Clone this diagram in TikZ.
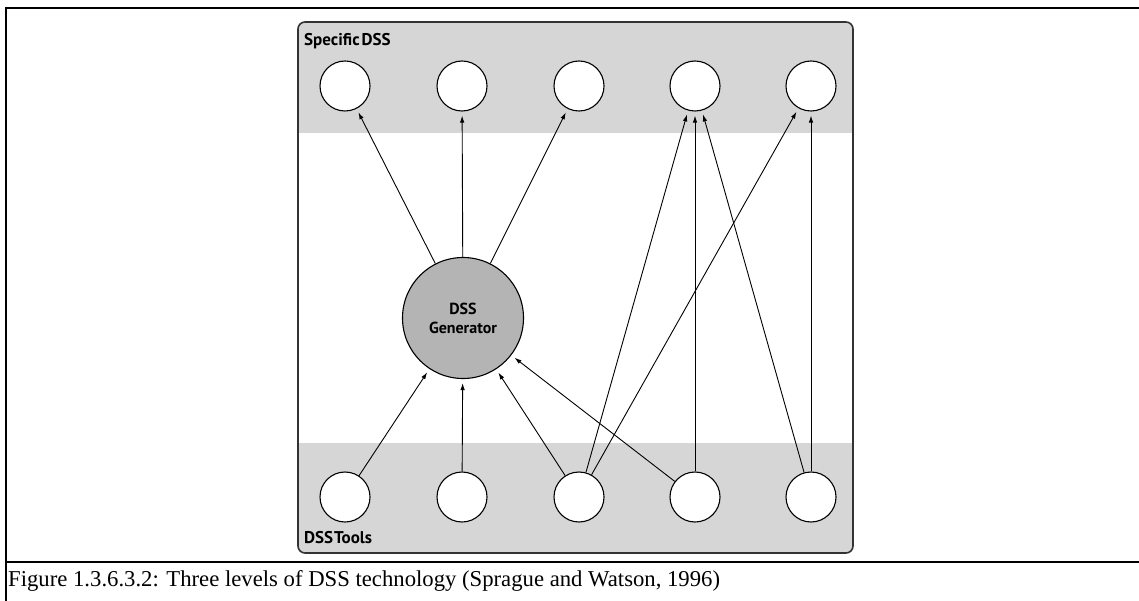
\documentclass[tikz,border=0pt]{standalone}
\usepackage{fontspec}
\setmainfont{Liberation Serif}
\newfontfamily\lblfont{PT Sans}
\usetikzlibrary{arrows.meta}
\definecolor{band}{HTML}{D6D6D6}
\definecolor{genfill}{HTML}{B4B4B4}
\definecolor{boxedge}{HTML}{333333}
\begin{document}
\begin{tikzpicture}[x=1pt,y=-1pt,
  smallc/.style={circle,draw=black,fill=white,line width=1.1pt,minimum size=50pt,inner sep=0pt},
  gen/.style={circle,draw=black,fill=genfill,line width=1.1pt,minimum size=121pt,inner sep=0pt,
    font=\lblfont\bfseries\fontsize{16}{19}\selectfont,align=center},
  arr/.style={-{Latex[length=7pt,width=4.5pt]},line width=0.9pt,shorten >=4pt},
  lbl/.style={font=\lblfont\bfseries\fontsize{17}{19}\selectfont,anchor=west,inner sep=0pt},
  frame/.style={line width=2.2pt,black}]
\useasboundingbox (0,0) rectangle (1139,601);
% table frame
\draw[frame] (6,8) -- (1139,8);
\draw[frame] (6,7) -- (6,601);
\draw[frame,line width=2.8pt] (5,562) -- (1139,562);
% diagram box
\begin{scope}
  \clip[rounded corners=7pt] (298,22) rectangle (853,553);
  \fill[white] (298,22) rectangle (853,553);
  \fill[band] (298,22) rectangle (853,133);
  \fill[band] (298,443) rectangle (853,553);
\end{scope}
\draw[boxedge,line width=1.6pt,rounded corners=7pt] (298,22) rectangle (853,553);
% labels
\node[lbl] (lt) at (304,41) {Specific\hspace{2pt}DSS};
\node[lbl] (lb) at (304,538) {DSS\hspace{1pt}Tools};
% top circles
\node[smallc] (t1) at (345,86) {};
\node[smallc] (t2) at (462,86) {};
\node[smallc] (t3) at (579,86) {};
\node[smallc] (t4) at (695,86) {};
\node[smallc] (t5) at (811,86) {};
% bottom circles
\node[smallc] (b1) at (345,497) {};
\node[smallc] (b2) at (462,497) {};
\node[smallc] (b3) at (579,497) {};
\node[smallc] (b4) at (695,497) {};
\node[smallc] (b5) at (811,497) {};
% generator
\node[gen] (g) at (463,318) {DSS\\Generator};
% arrows
\draw[arr] (g) -- (t1);
\draw[arr] (g) -- (t2);
\draw[arr] (g) -- (t3);
\draw[arr] (b1) -- (g);
\draw[arr] (b2) -- (g);
\draw[arr] (b3) -- (g);
\draw[arr] (b4) -- (g);
\draw[arr] (b3) -- (t4);
\draw[arr] (b3) -- (t5);
\draw[arr] (b4) -- (t4);
\draw[arr] (b5) -- (t4);
\draw[arr] (b5) -- (t5);
% caption
\node[anchor=west,inner sep=0pt,font=\fontsize{22.7}{26}\selectfont] (cap) at (8,581)
  {Figure 1.3.6.3.2: Three levels of DSS technology (Sprague and Watson, 1996)};
\end{tikzpicture}
\end{document}
